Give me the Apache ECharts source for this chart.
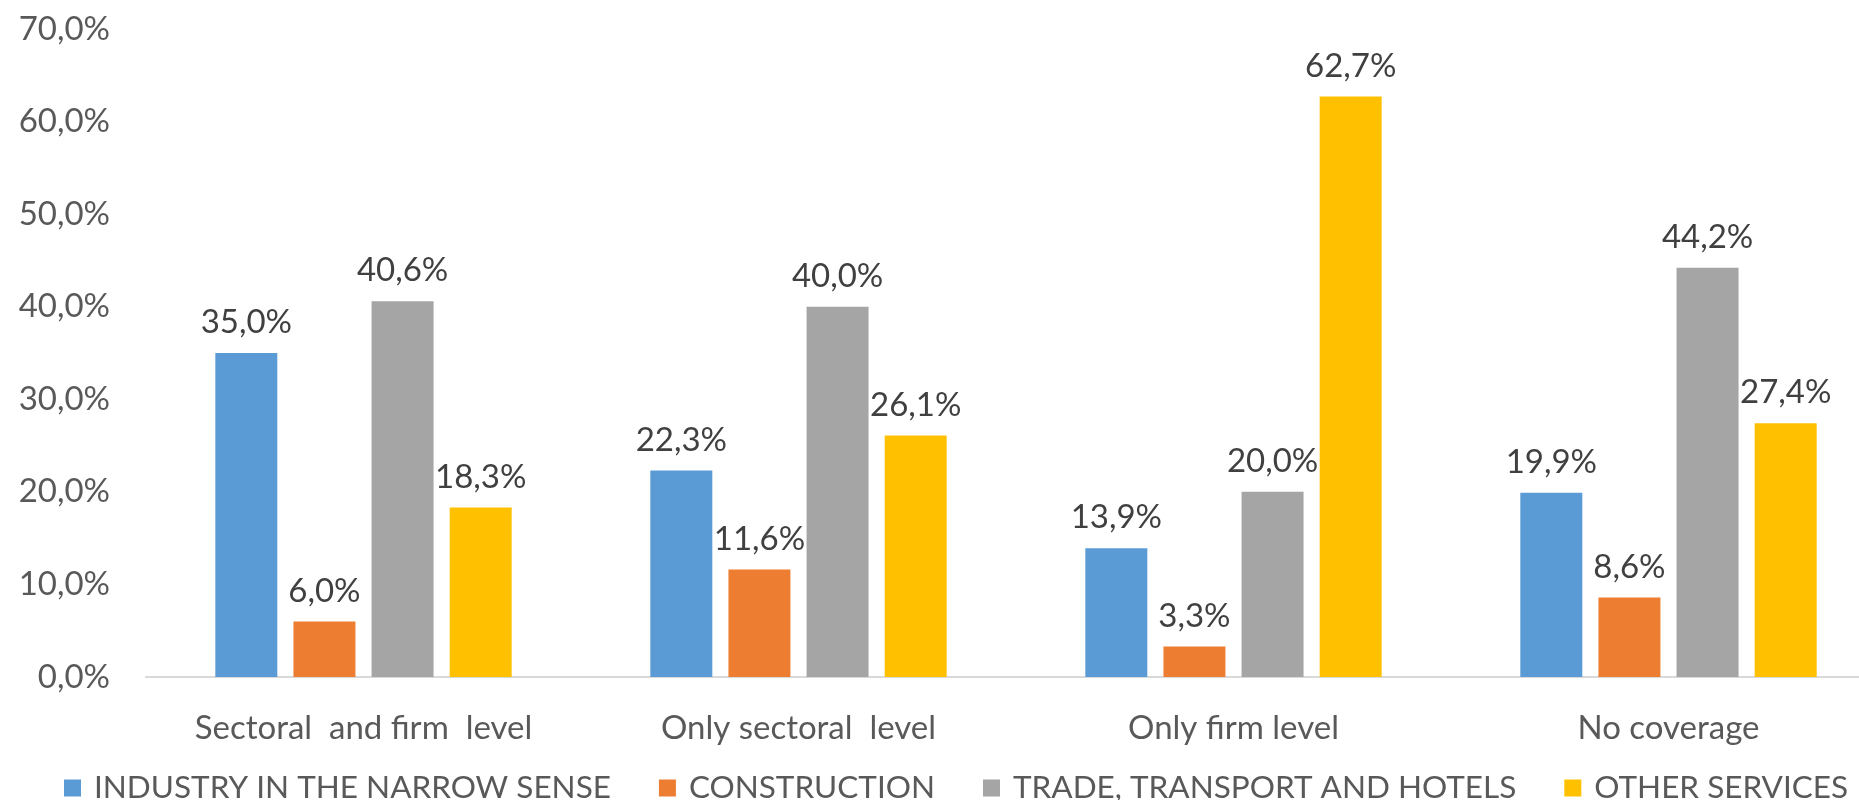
<!DOCTYPE html>
<html>
<head>
<meta charset="utf-8">
<script src="https://cdn.jsdelivr.net/npm/echarts@6/dist/echarts.min.js"></script>
<style>
  html, body { margin: 0; padding: 0; background: #ffffff; overflow: hidden; width: 1859px; height: 800px; }
  /* the plot area runs a little past the right edge of the page */
  #chart { width: 1886px; height: 800px; }
</style>
</head>
<body>
<div id="chart"></div>
<script>
// Coverage categories along the x axis
const categories = ['Sectoral  and firm  level', 'Only sectoral  level', 'Only firm level', 'No coverage'];

// Share of firms by economic sector (%)
const industry = [35.0, 22.3, 13.9, 19.9];
const construction = [6.0, 11.6, 3.3, 8.6];
const tradeTransportHotels = [40.6, 40.0, 20.0, 44.2];
const otherServices = [18.3, 26.1, 62.7, 27.4];

const seriesNames = ['INDUSTRY IN THE NARROW SENSE', 'CONSTRUCTION', 'TRADE, TRANSPORT AND HOTELS', 'OTHER SERVICES'];
const seriesValues = [industry, construction, tradeTransportHotels, otherServices];
const colors = ['#5B9BD5', '#ED7D31', '#A5A5A5', '#FFC000'];

const FONT = 'Lato, "Open Sans", sans-serif';
const pct = v => v.toFixed(1).replace('.', ',') + '%';

const chart = echarts.init(document.getElementById('chart'), null, { renderer: 'canvas' });
chart.setOption({
  animation: false,
  color: colors,
  grid: { left: 146, right: 0, top: 29, bottom: 123, containLabel: false },
  legend: {
    top: 767,
    left: 59,
    itemWidth: 17,
    itemHeight: 17,
    itemGap: 48,
    icon: 'rect',
    textStyle: { fontFamily: FONT, fontSize: 31.5, color: '#595959', padding: [0, 0, 0, 8] },
    data: seriesNames
  },
  xAxis: {
    type: 'category',
    data: categories,
    axisLine: { lineStyle: { color: '#D9D9D9', width: 2 } },
    axisTick: { show: false },
    axisLabel: { interval: 0, fontFamily: FONT, fontSize: 33, color: '#595959', margin: 35 }
  },
  yAxis: {
    type: 'value',
    min: 0,
    max: 70,
    interval: 10,
    splitLine: { show: false },
    axisLine: { show: false },
    axisTick: { show: false },
    axisLabel: { fontFamily: FONT, fontSize: 33, color: '#595959', margin: 36, formatter: v => pct(v) }
  },
  series: seriesNames.map((name, i) => ({
    name,
    type: 'bar',
    data: seriesValues[i],
    barWidth: 62,
    barGap: '26%',
    itemStyle: { color: colors[i] },
    label: {
      show: true,
      position: 'top',
      distance: 14,
      fontFamily: FONT,
      fontSize: 33,
      color: '#404040',
      formatter: p => pct(p.value)
    }
  }))
});
</script>
</body>
</html>
